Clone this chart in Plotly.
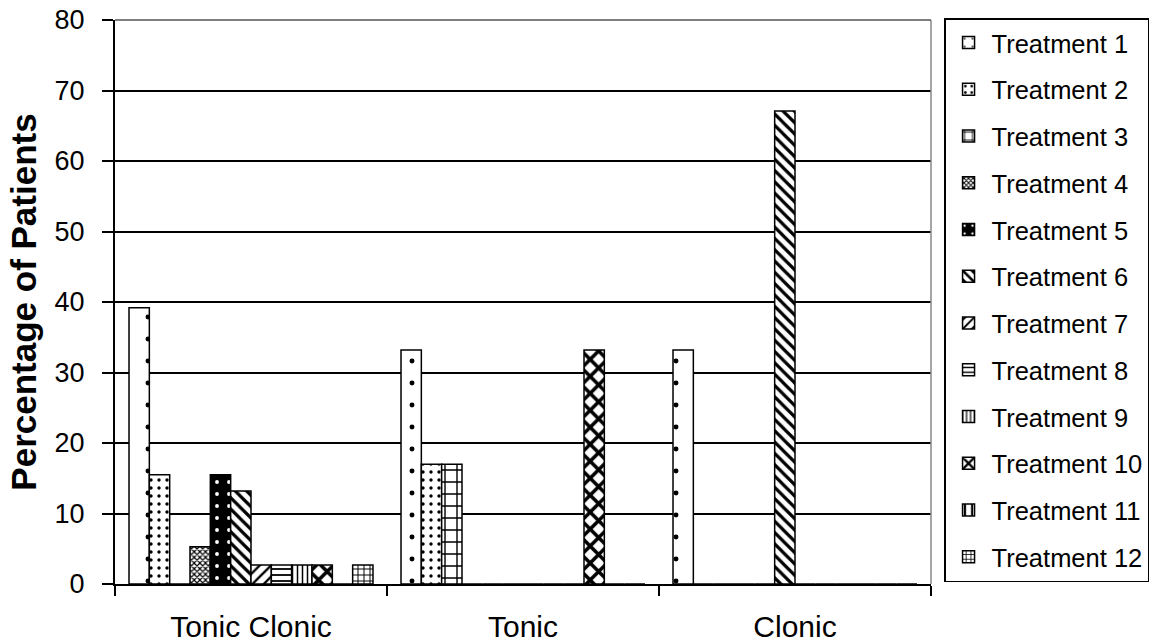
import plotly.graph_objects as go

categories = ["Tonic Clonic", "Tonic", "Clonic"]
series_names = [f"Treatment {i}" for i in range(1, 13)]
t1 = [39.2, 33.2, 33.2]
t2 = [15.5, 17.0, 0]
t3 = [0, 17.0, 0]
t4 = [5.3, 0, 0]
t5 = [15.5, 0, 0]
t6 = [13.2, 0, 67.1]
t7 = [2.7, 0, 0]
t8 = [2.7, 0, 0]
t9 = [2.7, 0, 0]
t10 = [2.7, 33.2, 0]
t11 = [0, 0, 0]
t12 = [2.7, 0, 0]
values = [t1, t2, t3, t4, t5, t6, t7, t8, t9, t10, t11, t12]

# pattern styles: (shape, size, solidity, fg, bg)
patterns = [
    (".", 22, 0.04, "black", "white"),
    (".", 8, 0.14, "black", "white"),
    ("+", 12, 0.22, "black", "white"),
    ("x", 4, 0.5, "black", "white"),
    (".", 12, 0.08, "white", "black"),
    ("\\", 8, 0.4, "black", "white"),
    ("/", 8, 0.3, "black", "white"),
    ("-", 6, 0.3, "black", "white"),
    ("|", 5, 0.3, "black", "white"),
    ("x", 12, 0.5, "black", "white"),
    ("|", 9, 0.3, "black", "white"),
    ("+", 6, 0.3, "black", "white"),
]

FONT = "Liberation Sans, Arial, sans-serif"

fig = go.Figure()
for i, (name, vals) in enumerate(zip(series_names, values)):
    shp, sz, sol, fg, bg = patterns[i]
    fig.add_trace(go.Bar(
        name=name, x=categories, y=vals, legendgroup=str(i),
        marker=dict(color="white", line=dict(color="black", width=1.5),
                    pattern=dict(shape=shp, size=sz, solidity=sol,
                                 fgcolor=fg, bgcolor=bg, fillmode="replace")),
    ))

fig.update_layout(
    width=1157, height=643,
    margin=dict(l=115, r=226, t=20, b=59, autoexpand=False),
    paper_bgcolor="white", plot_bgcolor="white",
    barmode="group", bargap=0.103, bargroupgap=0,
    font=dict(family=FONT, color="black"),
    legend=dict(x=1.016, y=1.0035, xanchor="left", yanchor="top",
                bordercolor="black", borderwidth=1.5, bgcolor="white",
                font=dict(size=25.5, family=FONT), tracegroupgap=10.6,
                itemwidth=36, maxheight=640),
    xaxis=dict(showline=True, linecolor="black", linewidth=2,
               ticks="outside", tickson="boundaries", ticklen=10,
               tickcolor="black", tickwidth=2,
               tickfont=dict(size=30, family=FONT), ticklabelstandoff=15,
               showgrid=False),
    yaxis=dict(range=[0, 80], dtick=10, showline=True, linecolor="black",
               linewidth=2, ticks="outside", ticklen=11, tickcolor="black",
               tickwidth=2, tickfont=dict(size=27, family=FONT),
               ticklabelstandoff=12, ticklabeloverflow="allow",
               showgrid=True, gridcolor="black", gridwidth=1.5,
               zeroline=False,
               title=dict(text="<b>Percentage of Patients</b>",
                          font=dict(size=35, family=FONT), standoff=7)),
    shapes=[
        dict(type="line", xref="paper", yref="paper", x0=1, x1=1,
             y0=0, y1=1, line=dict(color="#888888", width=1.5)),
        dict(type="line", xref="paper", yref="paper", x0=0, x1=1,
             y0=1, y1=1, line=dict(color="#555555", width=1.5)),
    ],
)

fig.write_html("out.html", config={"displayModeBar": False},
               post_script="document.body.style.margin='0';")
